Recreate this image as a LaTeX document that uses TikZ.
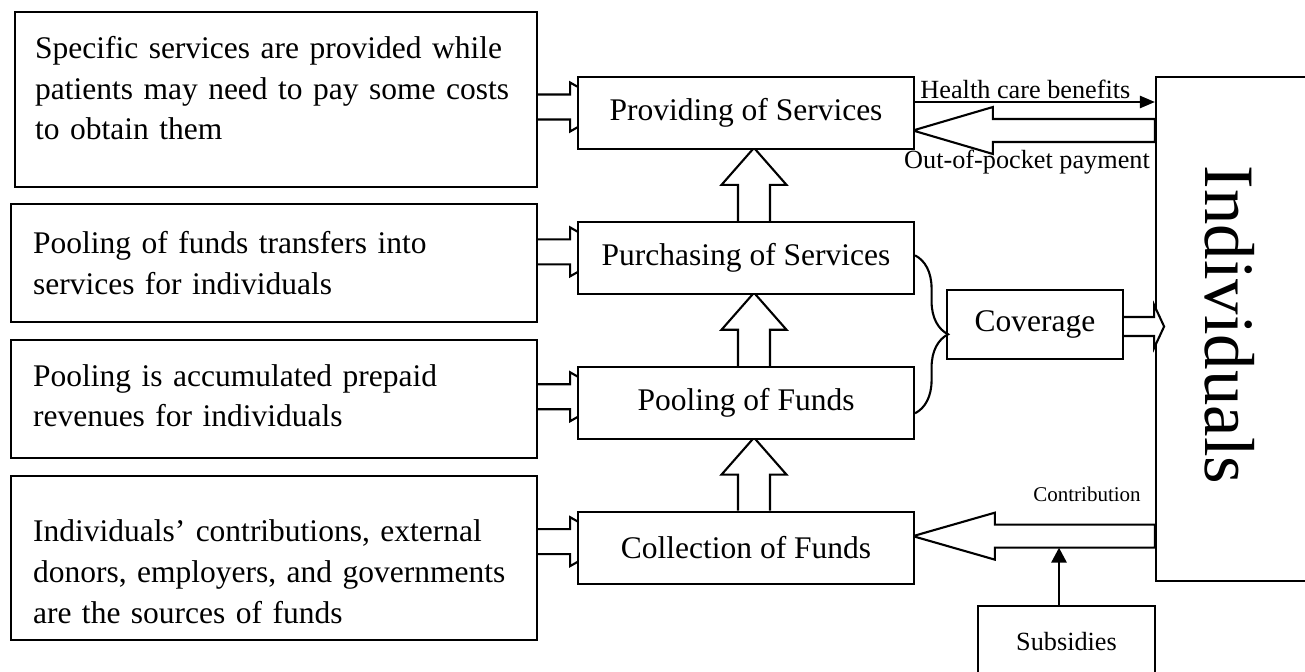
\documentclass[tikz,border=0pt]{standalone}
\usepackage{fontspec}
\setmainfont{Liberation Serif}
\usetikzlibrary{arrows.meta,positioning,calc,backgrounds,decorations.pathreplacing}

\newlength{\px}
\setlength{\px}{0.381pt}

% block arrow from a note into the stage on its right
\newcommand{\feed}[2]{%
  \draw[fat] ($(#1.east |- #2.west)+(0,-18.5)$) -- ++(32,0) -- ++(0,-12)
    -- ++(43,24.5) -- ++(-43,24.5) -- ++(0,-12) -- ++(-32,0);}
% block arrow from one stage up to the next
\newcommand{\lift}[2]{%
  \draw[fat] ($(#1.north)+(-8,0)$) -- ++(0,-36) -- ++(-16.5,0)
    -- ++(32.5,-37) -- ++(32.5,37) -- ++(-16.5,0) -- ++(0,36);}

\begin{document}
\begin{tikzpicture}[x=\px,y=-\px,
  every node/.style={font=\fontsize{12}{15.6}\selectfont},
  box/.style={draw,line width=0.8pt,fill=white},
  note/.style={box,minimum width=200.4pt,inner xsep=8.4pt,text width=183.6pt,align=left},
  stage/.style={box,minimum width=128pt,minimum height=27.4pt,align=center},
  fat/.style={draw,line width=0.8pt,fill=white,line join=miter},
  tag/.style={font=\fontsize{10}{12}\selectfont,inner sep=1pt},
  flow/.style={line width=0.8pt,-{Triangle[length=5.7pt,width=4.6pt]}},
  aid/.style={line width=1.1pt,-{Triangle[length=5.7pt,width=5.7pt]}}
]
\useasboundingbox (0,0) rectangle (1305,672);
\clip (0,0) rectangle (1305,672);

% descriptions on the left
\node[note,minimum width=198.9pt,inner xsep=7pt,minimum height=66.7pt] (l1) at (276,99.5)
  {Specific services are provided while\\
  patients may need to pay some costs\\to obtain them\rule[-8.8pt]{0pt}{8.8pt}};
\node[note,minimum height=45pt] (l2) at (274,263) {Pooling of funds transfers into\\
  services for individuals};
\node[note,minimum height=45pt] (l3) at (274,399) {Pooling is accumulated prepaid\\
  revenues for individuals\rule[-2.6pt]{0pt}{2.6pt}};
\node[note,minimum height=62.5pt] (l4) at (274,558)
  {\rule{0pt}{19pt}Individuals' contributions, external\\
  donors, employers, and governments\\are the sources of funds};

% the four functions
\node[stage] (pr) at (746,113) {Providing of Services};
\node[stage,below=27pt of pr] (pu) {Purchasing of Services};
\node[stage,below=27pt of pu] (po) {Pooling of Funds};
\node[stage,below=27pt of po] (co) {Collection of Funds};

\node[box,minimum width=67.1pt,minimum height=26.3pt] (cov) at (1035,324.5) {Coverage};
\node[draw,line width=0.8pt,minimum width=62.5pt,minimum height=192pt] (ind) at (1238,329) {};
\node[rotate=-90,font=\fontsize{27}{31}\selectfont] (indlbl) at (1230,325) {Individuals};
\node[box,minimum width=67.4pt,minimum height=27.4pt,font=\fontsize{10}{12}\selectfont] (sub) at (1066.5,642) {Subsidies};

\begin{pgfonlayer}{background}
\feed{l1}{pr}
\feed{l2}{pu}
\feed{l3}{po}
\feed{l4}{co}
\lift{pu}{pr}
\lift{po}{pu}
\lift{co}{po}
% payments back from the individuals
\draw[fat] ($(ind.west |- pr.east)+(0,6)$) -- ++(-162,0) -- ++(0,-12)
  -- ++(-80,23.5) -- ++(80,23.5) -- ++(0,-12) -- ++(162,0) -- cycle;
\draw[fat] ($(ind.west |- co.east)+(0,-23)$) -- ++(-160,0) -- ++(0,-12)
  -- ++(-82,23.5) -- ++(82,23.5) -- ++(0,-12) -- ++(160,0) -- cycle;
\end{pgfonlayer}

\draw[flow] ($(pr.east)+(0,-11)$) -- ($(ind.west |- pr.east)+(0,-11)$)
  node[tag,pos=0.46,above] (hcb) {Health care benefits};
\node[tag] (oop) at (1027,162) {Out-of-pocket payment};
\node[tag,font=\fontsize{8}{10}\selectfont] (con) at (1087,494) {Contribution};

\draw[line width=0.8pt,decorate,decoration={brace,amplitude=12.6pt}]
  ($(pu.east)+(0,-2.5)$) -- ($(po.east)+(0,10.5)$);
\draw[fat] ($(cov.east)+(0,-7.5)$) -- ++(30,0) -- ++(0,-12) -- ++(10,21.5)
  -- ++(-10,21.5) -- ++(0,-12) -- ++(-30,0);

\path ($(sub.north)+(-7.5,0)$) coordinate (sfoot);
\coordinate (cfoot) at (sfoot |- co.east);
\draw[aid] (sfoot) -- (cfoot);
\end{tikzpicture}
\end{document}
